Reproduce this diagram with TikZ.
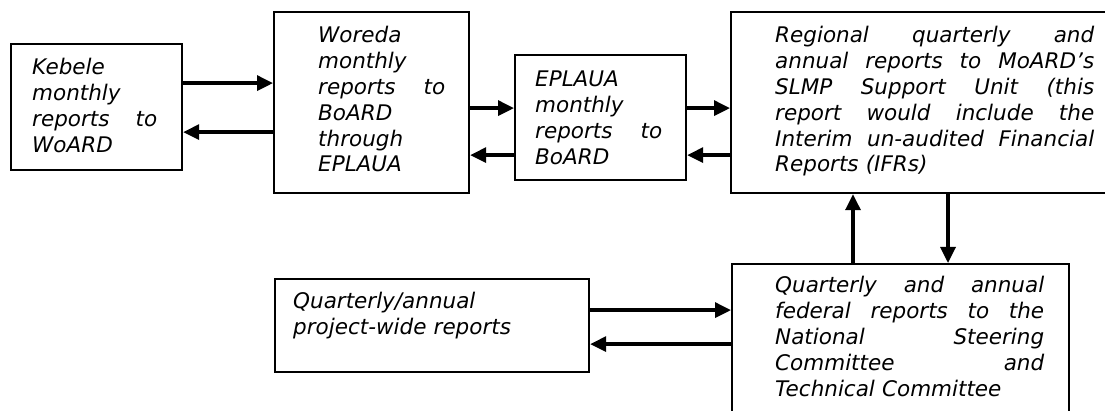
\documentclass[tikz,border=0pt]{standalone}
\usepackage{fontspec}
\setmainfont{DejaVu Sans}
\usepackage{tikz}
\usetikzlibrary{arrows.meta}
\usetikzlibrary{calc}
\usetikzlibrary{positioning}

\tikzset{
  box/.style={draw, line width=2.2pt, inner sep=0pt, anchor=north west},
  txt/.style={inner sep=0pt, anchor=base west, align=left,
    font=\fontsize{21.5}{25.8}\selectfont\itshape},
  arr/.style={line width=3.3pt, -{Triangle[length=16pt, width=15pt]}}
}

\begin{document}
\begin{tikzpicture}[x=1pt, y=-1pt]

      \useasboundingbox (0,0) rectangle (1105,411);

      % boxes
      \node[box, minimum width=171pt, minimum height=126pt] (kebele) at (10,43) {};
      \node[box, minimum width=195pt, minimum height=181pt] (woreda) at (273,11) {};
      \node[box, minimum width=171pt, minimum height=125pt] (eplaua) at (514,54) {};
      \node[box, minimum width=410pt, minimum height=181pt] (regional) at (730,11) {};
      \node[box, minimum width=314pt, minimum height=93pt] (projectwide) at (274,278) {};
      \node[box, minimum width=337pt, minimum height=170pt] (federal) at (731,263) {};

      % texts
      \node[txt, text width=125pt] (kebele-txt) at ([shift={(22,32)}]kebele.north west)
        {Kebele\\ monthly\\ reports\hfill to\\ WoARD};
      \node[txt, text width=127pt] (woreda-txt) at ([shift={(45,32)}]woreda.north west)
        {Woreda\\ monthly\\ reports\hfill to\\ BoARD\\ through\\ EPLAUA};
      \node[txt, text width=127pt] (eplaua-txt) at ([shift={(21,33)}]eplaua.north west)
        {EPLAUA\\ monthly\\ reports\hfill to\\ BoARD};
      \node[txt, text width=319pt] (regional-txt) at ([shift={(45,32)}]regional.north west)
        {Regional\hfill quarterly\hfill and\\
         annual\hfill reports\hfill to\hfill MoARD’s\\
         SLMP\hfill Support\hfill Unit\hfill (this\\
         report\hfill would\hfill include\hfill the\\
         Interim\hfill un-audited\hfill Financial\\
         Reports (IFRs)};
      \node[txt, text width=260pt] (projectwide-txt) at ([shift={(19,31)}]projectwide.north west)
        {Quarterly/annual\\ project-wide reports};
      \node[txt, text width=269pt] (federal-txt) at ([shift={(44,30)}]federal.north west)
        {Quarterly\hfill and\hfill annual\\
         federal\hfill reports\hfill to\hfill the\\
         National\hfill Steering\\
         Committee\hfill and\\
         Technical Committee};

      % arrows
      \draw[arr] (kebele.east) ++(0,-24) coordinate (k1) -- (k1 -| woreda.west);
      \draw[arr] (woreda.west) ++(0,29.5) coordinate (w1) -- (w1 -| kebele.east);
      \draw[arr] (woreda.east) ++(0,5.5) coordinate (w2) -- (w2 -| eplaua.west);
      \draw[arr] (eplaua.west) ++(0,37.5) coordinate (e1) -- (e1 -| woreda.east);
      \draw[arr] (eplaua.east) ++(0,-9.5) coordinate (e2) -- (e2 -| regional.west);
      \draw[arr] (regional.west) ++(0,52.5) coordinate (r1) -- (r1 -| eplaua.east);
      \draw[arr] (federal.north west) ++(122,0) coordinate (f1) -- (f1 |- regional.south);
      \draw[arr] (regional.south west) ++(218,0) coordinate (r2) -- (r2 |- federal.north);
      \draw[arr] (projectwide.east) ++(0,-15.5) coordinate (p1) -- (p1 -| federal.west);
      \path (projectwide.east) ++(0,18.5) coordinate (p2);
      \draw[arr] (p2 -| federal.west) -- (p2);

\end{tikzpicture}
\end{document}
